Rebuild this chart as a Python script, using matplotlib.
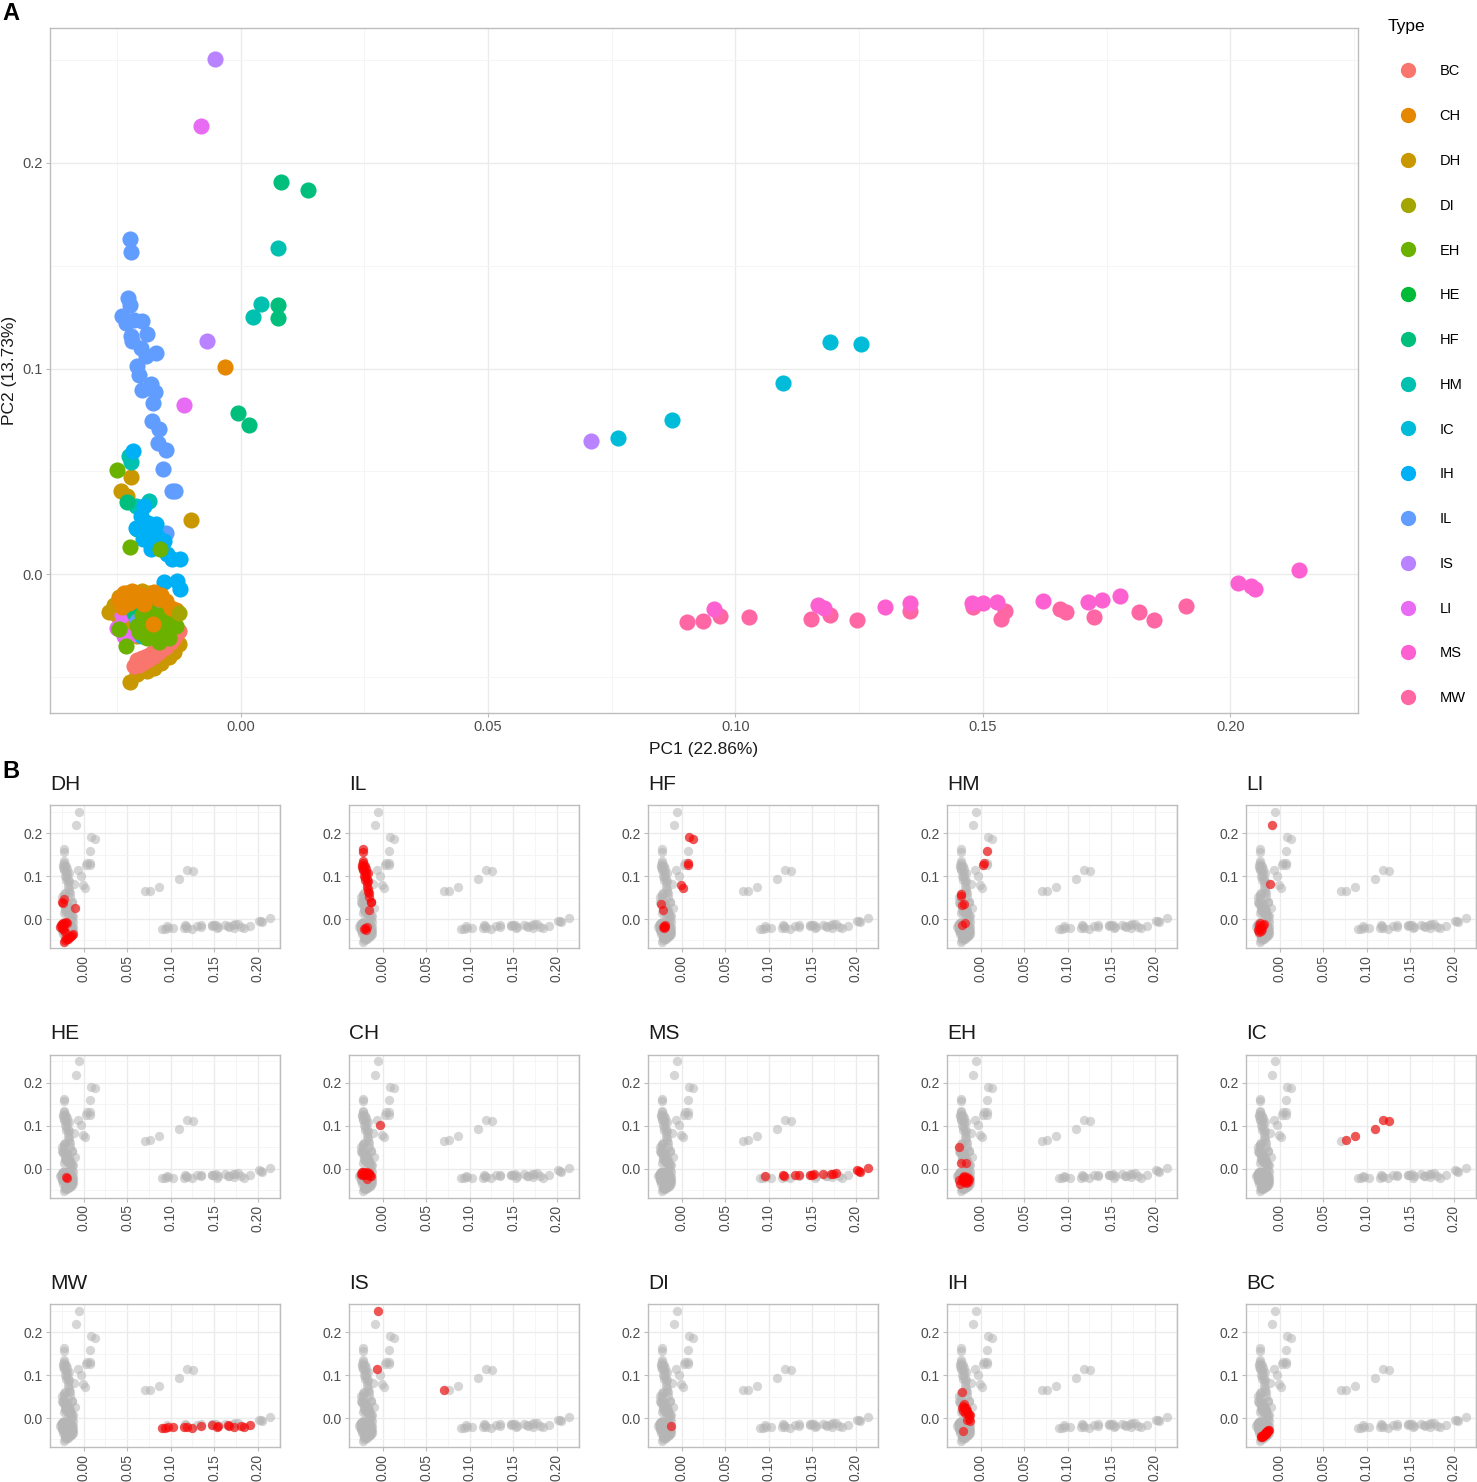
import matplotlib
matplotlib.use("Agg")
import matplotlib.pyplot as plt
import numpy as np

plt.rcParams['font.family'] = ['Liberation Sans', 'DejaVu Sans']

# PCA scores, one list of (PC1, PC2) per type
BC = [(-0.0215, -0.0445), (-0.0205, -0.0440), (-0.0195, -0.0425), (-0.0200, -0.0410),
      (-0.0185, -0.0415), (-0.0175, -0.0400), (-0.0180, -0.0385), (-0.0165, -0.0380),
      (-0.0160, -0.0365), (-0.0150, -0.0355), (-0.0155, -0.0340), (-0.0140, -0.0330),
      (-0.0135, -0.0310), (-0.0130, -0.0290), (-0.0125, -0.0275), (-0.0145, -0.0300),
      (-0.0170, -0.0355), (-0.0190, -0.0400), (-0.0210, -0.0420), (-0.0160, -0.0330)]
CH = [(-0.0031, 0.1006), (-0.0245, -0.0120), (-0.0235, -0.0090), (-0.0220, -0.0080),
      (-0.0205, -0.0095), (-0.0190, -0.0110), (-0.0175, -0.0085), (-0.0160, -0.0100),
      (-0.0150, -0.0130), (-0.0140, -0.0165), (-0.0210, -0.0125), (-0.0195, -0.0145),
      (-0.0178, -0.0243), (-0.0130, -0.0175), (-0.0225, -0.0140), (-0.0165, -0.0120),
      (-0.0240, -0.0160)]
DH = [(-0.0221, 0.0474), (-0.0242, 0.0406), (-0.0230, 0.0379), (-0.0100, 0.0261),
      (-0.0265, -0.0185), (-0.0255, -0.0150), (-0.0245, -0.0110), (-0.0230, -0.0090),
      (-0.0215, -0.0100), (-0.0200, -0.0080), (-0.0185, -0.0090), (-0.0250, -0.0200),
      (-0.0240, -0.0230), (-0.0225, -0.0260), (-0.0210, -0.0300), (-0.0200, -0.0450),
      (-0.0190, -0.0470), (-0.0175, -0.0455), (-0.0160, -0.0430), (-0.0145, -0.0405),
      (-0.0224, -0.0524), (-0.0210, -0.0485), (-0.0135, -0.0380), (-0.0125, -0.0340)]
DI = [(-0.0125, -0.0190)]
EH = [(-0.0250, 0.0508), (-0.0223, 0.0132), (-0.0162, 0.0124), (-0.0246, -0.0267),
      (-0.0232, -0.0350), (-0.0200, -0.0200), (-0.0190, -0.0230), (-0.0180, -0.0260),
      (-0.0170, -0.0220), (-0.0160, -0.0250), (-0.0150, -0.0280), (-0.0140, -0.0240),
      (-0.0175, -0.0300), (-0.0190, -0.0310), (-0.0205, -0.0280), (-0.0155, -0.0190),
      (-0.0130, -0.0250), (-0.0165, -0.0330), (-0.0185, -0.0170), (-0.0145, -0.0310),
      (-0.0210, -0.0250)]
HE = [(-0.0200, -0.0200), (-0.0195, -0.0215)]
HF = [(0.0081, 0.1908), (0.0137, 0.1869), (0.0075, 0.1311), (0.0075, 0.1248),
      (-0.0006, 0.0786), (0.0018, 0.0723), (-0.0230, 0.0350), (-0.0210, 0.0220),
      (-0.0205, -0.0160), (-0.0190, -0.0180), (-0.0200, -0.0200), (-0.0185, -0.0150),
      (-0.0215, -0.0190)]
HM = [(0.0075, 0.1587), (0.0042, 0.1316), (0.0026, 0.1252), (-0.0225, 0.0576),
      (-0.0222, 0.0544), (-0.0212, 0.0331), (-0.0185, 0.0358), (-0.0215, -0.0150),
      (-0.0175, -0.0090)]
IC = [(0.0762, 0.0660), (0.0871, 0.0752), (0.1097, 0.0932), (0.1192, 0.1131),
      (0.1254, 0.1117)]
IH = [(-0.0217, 0.0600), (-0.0195, 0.0332), (-0.0202, 0.0283), (-0.0188, 0.0251),
      (-0.0211, 0.0226), (-0.0181, 0.0210), (-0.0198, 0.0170), (-0.0168, 0.0186),
      (-0.0161, 0.0137), (-0.0181, 0.0121), (-0.0148, 0.0097), (-0.0138, 0.0073),
      (-0.0122, 0.0073), (-0.0171, 0.0243), (-0.0154, 0.0162), (-0.0155, -0.0040),
      (-0.0128, -0.0032), (-0.0122, -0.0073), (-0.0200, -0.0300)]
IL = [(-0.0224, 0.1629), (-0.0221, 0.1565), (-0.0227, 0.1342), (-0.0223, 0.1310),
      (-0.0239, 0.1256), (-0.0232, 0.1221), (-0.0215, 0.1237), (-0.0199, 0.1229),
      (-0.0189, 0.1168), (-0.0222, 0.1156), (-0.0219, 0.1132), (-0.0202, 0.1100),
      (-0.0192, 0.1060), (-0.0170, 0.1076), (-0.0210, 0.1011), (-0.0205, 0.0971),
      (-0.0182, 0.0923), (-0.0199, 0.0898), (-0.0172, 0.0885), (-0.0178, 0.0834),
      (-0.0180, 0.0745), (-0.0164, 0.0708), (-0.0166, 0.0637), (-0.0150, 0.0605),
      (-0.0156, 0.0511), (-0.0138, 0.0406), (-0.0132, 0.0406), (-0.0150, 0.0200),
      (-0.0210, -0.0230), (-0.0195, -0.0250), (-0.0175, -0.0186), (-0.0200, -0.0210)]
IS = [(-0.0052, 0.2505), (-0.0067, 0.1136), (0.0708, 0.0646)]
LI = [(-0.0081, 0.2180), (-0.0115, 0.0825), (-0.0250, -0.0260), (-0.0240, -0.0200),
      (-0.0230, -0.0150), (-0.0220, -0.0100), (-0.0210, -0.0180), (-0.0200, -0.0230),
      (-0.0215, -0.0290), (-0.0190, -0.0150), (-0.0180, -0.0120), (-0.0235, -0.0300)]
MS = [(0.0957, -0.0169), (0.1167, -0.0150), (0.1180, -0.0166), (0.1303, -0.0158),
      (0.1352, -0.0140), (0.1479, -0.0140), (0.1501, -0.0140), (0.1528, -0.0137),
      (0.1621, -0.0132), (0.1713, -0.0137), (0.1740, -0.0124), (0.1777, -0.0105),
      (0.2016, -0.0045), (0.2041, -0.0056), (0.2050, -0.0073), (0.2138, 0.0019)]
MW = [(0.0902, -0.0231), (0.0934, -0.0229), (0.0968, -0.0203), (0.1027, -0.0210),
      (0.1153, -0.0216), (0.1192, -0.0200), (0.1246, -0.0224), (0.1352, -0.0179),
      (0.1481, -0.0161), (0.1544, -0.0177), (0.1537, -0.0218), (0.1655, -0.0169),
      (0.1668, -0.0185), (0.1724, -0.0208), (0.1815, -0.0185), (0.1846, -0.0221),
      (0.1911, -0.0153)]

types = ['BC', 'CH', 'DH', 'DI', 'EH', 'HE', 'HF', 'HM', 'IC', 'IH', 'IL', 'IS', 'LI', 'MS', 'MW']
colors = ['#F8766D', '#E58700', '#C99800', '#A3A500', '#6BB100', '#00BA38', '#00BF7D', '#00C0AF',
          '#00BCD8', '#00B0F6', '#619CFF', '#B983FF', '#E76BF3', '#FD61D1', '#FF67A4']
draw_order = ['DH', 'LI', 'HE', 'HM', 'HF', 'IL', 'IH', 'BC', 'EH', 'CH', 'DI', 'IS', 'IC', 'MW', 'MS']
facet_order = ['DH', 'IL', 'HF', 'HM', 'LI', 'HE', 'CH', 'MS', 'EH', 'IC', 'MW', 'IS', 'DI', 'IH', 'BC']

pts = {'BC': BC, 'CH': CH, 'DH': DH, 'DI': DI, 'EH': EH, 'HE': HE, 'HF': HF, 'HM': HM,
       'IC': IC, 'IH': IH, 'IL': IL, 'IS': IS, 'LI': LI, 'MS': MS, 'MW': MW}
pts = {k: np.array(v) for k, v in pts.items()}
col = dict(zip(types, colors))
allp = np.vstack([pts[t] for t in types])

# ggplot-like 5% expansion
xr = allp[:, 0].max() - allp[:, 0].min()
yr = allp[:, 1].max() - allp[:, 1].min()
xlim = (allp[:, 0].min() - 0.05 * xr, allp[:, 0].max() + 0.05 * xr)
ylim = (allp[:, 1].min() - 0.05 * yr, allp[:, 1].max() + 0.05 * yr)

W, H = 1477, 1482
fig = plt.figure(figsize=(W / 100, H / 100), dpi=100)


def px_axes(left, top, width, height):
    return fig.add_axes([left / W, 1 - (top + height) / H, width / W, height / H])


def style(ax, tsize):
    ax.set_xlim(*xlim)
    ax.set_ylim(*ylim)
    ax.set_xticks([0, 0.05, 0.10, 0.15, 0.20])
    ax.set_xticks([-0.025, 0.025, 0.075, 0.125, 0.175, 0.225], minor=True)
    ax.set_yticks([0, 0.1, 0.2])
    ax.set_yticks([-0.05, 0.05, 0.15, 0.25], minor=True)
    ax.grid(True, which='major', color='#EBEBEB', lw=1.0)
    ax.grid(True, which='minor', color='#F4F4F4', lw=0.6)
    ax.set_axisbelow(True)
    for s in ax.spines.values():
        s.set_color('#BDBDBD')
        s.set_linewidth(1.0)
    ax.tick_params(which='major', length=3, color='#BDBDBD', labelsize=tsize,
                   labelcolor='#4D4D4D', pad=2)
    ax.tick_params(which='minor', length=0)


# Panel A
ax = px_axes(50, 28, 1308, 685)
style(ax, 10.5)
ax.set_xticklabels(['0.00', '0.05', '0.10', '0.15', '0.20'])
for t in draw_order:
    ax.scatter(pts[t][:, 0], pts[t][:, 1], s=135, color=col[t], linewidths=0, zorder=3)
ax.set_xlabel('PC1 (22.86%)', fontsize=12.5, color='#1A1A1A')
ax.set_ylabel('PC2 (13.73%)', fontsize=12.5, color='#1A1A1A')
ax.xaxis.set_label_coords(0.5, -0.043)
ax.yaxis.set_label_coords(-0.025, 0.5)

handles = [plt.Line2D([], [], ls='', marker='o', ms=11, mec='none', color=col[t]) for t in types]
fig.legend(handles, types, title='Type', loc='upper left',
           bbox_to_anchor=(1376 / W, 1 - 7 / H), frameon=False, fontsize=10.5,
           title_fontsize=12.5, labelspacing=2.11, handlelength=2.8, handletextpad=0.75,
           borderpad=0.3, alignment='left')

fig.text(2 / W, 1 - 14 / H, 'A', fontsize=17, fontweight='bold', va='center')
fig.text(2 / W, 1 - 772 / H, 'B', fontsize=17, fontweight='bold', va='center')

# Panel B: one facet per type, all points grey, the type in red
for i, t in enumerate(facet_order):
    r, c = divmod(i, 5)
    sa = px_axes(50 + 299 * c, 805 + 249.5 * r, 230, 143)
    style(sa, 10)
    sa.set_xticklabels(['0.00', '0.05', '0.10', '0.15', '0.20'], rotation=90)
    sa.set_yticklabels(['0.0', '0.1', '0.2'])
    sa.scatter(allp[:, 0], allp[:, 1], s=45, color='#B5B5B5', alpha=0.55, linewidths=0, zorder=3)
    sa.scatter(pts[t][:, 0], pts[t][:, 1], s=45, color='#FF0000', alpha=0.6, linewidths=0, zorder=4)
    sa.set_title(t, loc='left', fontsize=15, pad=11, color='#1A1A1A')

fig.savefig('out.png', dpi=100)
